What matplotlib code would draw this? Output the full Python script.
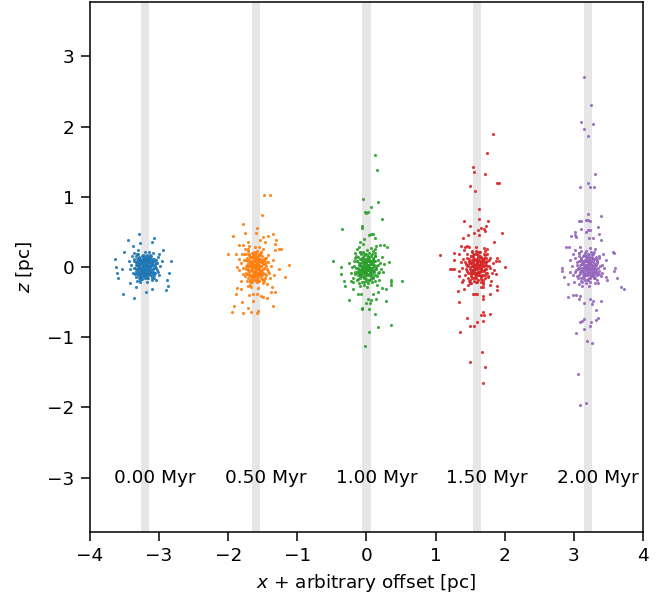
import matplotlib
matplotlib.use("Agg")
import matplotlib.pyplot as plt
import numpy as np

# Cluster offsets along x and time labels
offsets = [-3.2, -1.6, 0.0, 1.6, 3.2]
labels = ["0.00 Myr", "0.50 Myr", "1.00 Myr", "1.50 Myr", "2.00 Myr"]
colors = ["tab:blue", "tab:orange", "tab:green", "tab:red", "tab:purple"]

# (dx, z) of stars in each snapshot
stars_000 = [
    (-0.20,0.03),(-0.18,-0.08),(-0.17,0.12),(-0.15,-0.02),(-0.14,0.07),(-0.13,-0.14),(-0.12,0.18),(-0.11,0.01),
    (-0.10,-0.09),(-0.09,0.10),(-0.08,-0.18),(-0.07,0.04),(-0.06,-0.05),(-0.05,0.15),(-0.04,-0.12),(-0.03,0.08),
    (-0.02,-0.02),(-0.01,0.21),(0.00,-0.07),(0.01,0.05),(0.02,-0.16),(0.03,0.12),(0.04,-0.03),(0.05,0.02),
    (0.06,-0.10),(0.07,0.17),(0.08,-0.06),(0.09,0.08),(0.10,-0.15),(0.11,0.03),(0.12,-0.01),(0.13,0.11),
    (0.14,-0.09),(0.15,0.06),(0.17,-0.04),(0.18,0.14),(0.20,-0.12),(0.22,0.01),(-0.22,-0.03),(-0.16,0.20),
    (-0.07,-0.22),(0.05,0.22),(0.16,-0.19),(-0.03,0.00),(0.00,0.10),(0.02,0.00),(-0.05,-0.01),(0.04,0.07),
    (-0.09,0.00),(0.08,0.01),(-0.01,-0.11),(0.00,0.03),(-0.12,-0.20),(0.11,0.20),(-0.19,0.15),(0.19,-0.07),
    (0.24,0.08),(-0.24,0.09),(0.03,-0.22),(-0.10,0.24),
    (-0.14,0.03),(-0.13,-0.06),(-0.12,0.11),(-0.11,-0.12),(-0.10,0.05),(-0.10,-0.03),(-0.09,0.14),(-0.08,-0.08),
    (-0.08,0.07),(-0.07,-0.14),(-0.07,0.00),(-0.06,0.10),(-0.06,-0.10),(-0.05,0.04),(-0.05,-0.17),(-0.04,0.12),
    (-0.04,-0.04),(-0.03,0.17),(-0.03,-0.09),(-0.02,0.06),(-0.02,-0.14),(-0.01,0.13),(-0.01,-0.05),(0.00,0.15),
    (0.00,-0.03),(0.00,-0.15),(0.01,0.08),(0.01,-0.09),(0.02,0.17),(0.02,-0.12),(0.03,0.03),(0.03,-0.06),
    (0.04,0.14),(0.04,-0.15),(0.05,0.09),(0.05,-0.07),(0.06,0.00),(0.06,0.13),(0.07,-0.12),(0.07,0.05),
    (0.08,-0.03),(0.09,0.12),(0.09,-0.09),(0.10,0.04),(0.11,-0.07),(0.12,0.09),(0.13,-0.12),(0.14,0.00),
    (-0.15,-0.10),(-0.16,0.08),(0.15,0.10),(0.16,-0.02),(-0.11,0.18),(0.10,-0.18),(-0.04,0.02),(0.02,0.03),
    (-0.06,-0.01),(0.04,-0.01),(-0.02,-0.01),(0.01,0.01),(-0.09,-0.16),(0.08,0.16),(-0.13,0.15),(0.12,-0.15),
    (-0.17,-0.01),(0.17,0.06),
    (-0.125,0.025),(-0.115,-0.035),(-0.105,0.085),(-0.095,-0.055),(-0.085,0.025),(-0.075,0.115),(-0.075,-0.115),
    (-0.065,0.055),(-0.055,-0.035),(-0.045,0.085),(-0.045,-0.075),(-0.035,0.035),(-0.025,-0.115),(-0.025,0.105),
    (-0.015,0.025),(-0.015,-0.065),(-0.005,0.065),(0.005,-0.035),(0.005,0.115),(0.015,-0.085),(0.015,0.045),
    (0.025,-0.025),(0.035,0.095),(0.035,-0.105),(0.045,0.025),(0.055,-0.045),(0.055,0.065),(0.065,-0.085),
    (0.075,0.095),(0.075,0.015),(0.085,-0.055),(0.095,0.055),(0.105,-0.025),(0.115,0.075),(0.125,-0.085),
    (-0.135,-0.085),(-0.135,0.075),(0.135,0.035),(-0.095,0.135),(0.095,-0.135),(-0.035,0.145),(0.025,-0.145),
    (-0.055,-0.145),(0.065,0.145),
    (-0.09,0.47),(0.12,0.42),(-0.25,0.39),(0.09,0.36),(-0.08,0.34),(-0.18,0.30),(-0.31,0.21),(-0.44,0.11),
    (0.37,0.09),(-0.42,0.00),(-0.33,-0.03),(-0.41,-0.09),(-0.39,-0.16),(0.34,-0.08),(0.32,-0.19),(-0.22,-0.23),
    (0.33,-0.27),(-0.13,-0.29),(0.09,-0.32),(0.30,-0.33),(0.01,-0.35),(-0.32,-0.38),(-0.16,-0.44),(0.25,0.24),
    (0.20,0.19),
]
stars_050 = [
    (-0.22,0.05),(-0.19,-0.10),(-0.17,0.18),(-0.15,-0.03),(-0.14,0.10),(-0.13,-0.20),(-0.12,0.25),(-0.11,0.00),
    (-0.10,-0.12),(-0.09,0.14),(-0.08,-0.25),(-0.07,0.05),(-0.06,-0.06),(-0.05,0.20),(-0.04,-0.16),(-0.03,0.09),
    (-0.02,-0.02),(-0.01,0.28),(0.00,-0.09),(0.01,0.04),(0.02,-0.21),(0.03,0.15),(0.04,-0.04),(0.05,0.01),
    (0.06,-0.13),(0.07,0.22),(0.08,-0.07),(0.09,0.09),(0.10,-0.19),(0.11,0.04),(0.12,-0.01),(0.13,0.13),
    (0.14,-0.11),(0.15,0.07),(0.17,-0.05),(0.18,0.17),(0.20,-0.15),(0.22,0.02),(-0.24,-0.04),(-0.16,0.25),
    (-0.07,-0.29),(0.05,0.29),(0.16,-0.24),(-0.03,0.01),(0.00,0.12),(0.02,0.00),(-0.05,-0.01),(0.04,0.08),
    (-0.09,0.01),(0.08,0.02),(-0.01,-0.13),(0.00,0.04),(-0.12,-0.27),(0.11,0.26),(-0.20,0.18),(0.19,-0.09),
    (0.25,0.10),(-0.25,0.12),(0.03,-0.30),(-0.10,0.30),(0.26,-0.12),(-0.21,-0.20),
    (-0.15,0.02),(-0.14,-0.09),(-0.13,0.13),(-0.12,-0.15),(-0.11,0.06),(-0.10,-0.04),(-0.10,0.18),(-0.09,-0.11),
    (-0.08,0.09),(-0.08,-0.19),(-0.07,0.01),(-0.06,0.14),(-0.06,-0.13),(-0.05,0.05),(-0.05,-0.22),(-0.04,0.16),
    (-0.04,-0.05),(-0.03,0.22),(-0.03,-0.11),(-0.02,0.08),(-0.02,-0.18),(-0.01,0.17),(-0.01,-0.07),(0.00,0.20),
    (0.00,-0.02),(0.00,-0.20),(0.01,0.10),(0.01,-0.12),(0.02,0.23),(0.02,-0.15),(0.03,0.04),(0.03,-0.08),
    (0.04,0.18),(0.04,-0.20),(0.05,0.12),(0.05,-0.09),(0.06,0.01),(0.06,0.17),(0.07,-0.16),(0.07,0.07),
    (0.08,-0.04),(0.09,0.15),(0.09,-0.12),(0.10,0.05),(0.11,-0.09),(0.12,0.11),(0.13,-0.16),(0.14,0.01),
    (-0.16,-0.13),(-0.17,0.10),(0.15,0.13),(0.16,-0.03),(-0.11,0.23),(0.10,-0.23),(-0.04,0.03),(0.02,0.04),
    (-0.06,-0.02),(0.04,-0.01),(-0.02,0.00),(0.01,0.02),(-0.09,-0.21),(0.08,0.21),(-0.14,0.19),(0.12,-0.20),
    (-0.18,-0.02),(0.18,0.07),
    (-0.125,0.03),(-0.115,-0.045),(-0.105,0.105),(-0.095,-0.07),(-0.085,0.03),(-0.075,0.145),(-0.075,-0.145),
    (-0.065,0.07),(-0.055,-0.045),(-0.045,0.105),(-0.045,-0.095),(-0.035,0.045),(-0.025,-0.145),(-0.025,0.13),
    (-0.015,0.03),(-0.015,-0.08),(-0.005,0.08),(0.005,-0.045),(0.005,0.145),(0.015,-0.105),(0.015,0.055),
    (0.025,-0.03),(0.035,0.12),(0.035,-0.13),(0.045,0.03),(0.055,-0.055),(0.055,0.08),(0.065,-0.105),
    (0.075,0.12),(0.075,0.02),(0.085,-0.07),(0.095,0.07),(0.105,-0.03),(0.115,0.095),(0.125,-0.105),
    (-0.135,-0.105),(-0.135,0.095),(0.135,0.045),(-0.095,0.17),(0.095,-0.17),(-0.035,0.18),(0.025,-0.18),
    (-0.055,-0.18),(0.065,0.18),
    (0.12,1.02),(0.20,1.02),(0.09,0.74),(-0.19,0.61),(0.02,0.56),(-0.16,0.49),(0.00,0.48),(0.25,0.47),
    (-0.33,0.44),(0.11,0.43),(0.18,0.44),(0.29,0.39),(0.06,0.38),(-0.11,0.36),(-0.25,0.32),(-0.18,0.31),
    (0.28,0.33),(0.13,0.35),(0.34,0.26),(0.36,0.25),(-0.41,0.19),(-0.29,0.18),(0.27,0.24),(0.48,0.03),
    (-0.28,0.00),(0.42,-0.14),(0.33,-0.03),(-0.28,-0.30),(-0.29,-0.38),(-0.21,-0.32),(0.24,-0.28),(0.28,-0.35),
    (0.22,-0.36),(-0.10,-0.40),(-0.04,-0.39),(0.01,-0.39),(0.07,-0.42),(0.16,-0.44),(0.10,-0.43),(-0.04,-0.48),
    (-0.20,-0.50),(-0.32,-0.56),(-0.11,-0.59),(0.25,-0.55),(-0.35,-0.64),(-0.18,-0.66),(-0.07,-0.64),(0.01,-0.65),
    (0.03,-0.63),
]
stars_100 = [
    (-0.21,0.00),(-0.18,0.09),(-0.16,-0.07),(-0.15,0.15),(-0.13,-0.01),(-0.12,-0.17),(-0.11,0.06),(-0.10,0.21),
    (-0.09,-0.10),(-0.08,0.02),(-0.07,0.12),(-0.06,-0.21),(-0.05,-0.03),(-0.04,0.18),(-0.03,0.05),(-0.02,-0.13),
    (-0.01,0.09),(0.00,-0.05),(0.01,0.24),(0.02,0.01),(0.03,-0.18),(0.04,0.13),(0.05,-0.08),(0.06,0.04),
    (0.07,-0.01),(0.08,0.19),(0.09,-0.14),(0.10,0.07),(0.11,-0.04),(0.12,0.16),(0.13,-0.20),(0.14,0.02),
    (0.16,0.10),(0.17,-0.09),(0.19,0.05),(0.21,-0.03),(-0.23,-0.09),(-0.19,-0.15),(-0.14,0.25),(-0.04,-0.26),
    (0.06,0.27),(0.15,-0.25),(0.22,0.14),(-0.02,0.02),(0.01,-0.02),(-0.06,0.07),(0.04,-0.11),(0.00,0.07),
    (-0.03,-0.06),(0.02,0.11),(-0.08,-0.04),(0.09,0.00),(-0.11,0.28),(-0.17,0.20),(0.18,-0.18),(0.24,-0.07),
    (-0.25,0.06),(0.12,0.26),(-0.09,-0.27),(0.01,-0.29),(0.26,0.04),(-0.20,-0.22),
    (-0.15,-0.02),(-0.14,0.08),(-0.13,-0.11),(-0.12,0.14),(-0.11,-0.05),(-0.10,0.03),(-0.10,-0.16),(-0.09,0.11),
    (-0.08,-0.08),(-0.08,0.19),(-0.07,-0.01),(-0.06,-0.13),(-0.06,0.13),(-0.05,-0.04),(-0.05,0.21),(-0.04,-0.16),
    (-0.04,0.05),(-0.03,-0.21),(-0.03,0.10),(-0.02,-0.07),(-0.02,0.17),(-0.01,-0.17),(-0.01,0.06),(0.00,-0.20),
    (0.00,0.02),(0.00,0.19),(0.01,-0.10),(0.01,0.12),(0.02,-0.23),(0.02,0.15),(0.03,-0.03),(0.03,0.08),
    (0.04,-0.18),(0.04,0.20),(0.05,-0.12),(0.05,0.09),(0.06,-0.01),(0.06,-0.17),(0.07,0.16),(0.07,-0.06),
    (0.08,0.04),(0.09,-0.15),(0.09,0.12),(0.10,-0.05),(0.11,0.09),(0.12,-0.11),(0.13,0.16),(0.14,-0.01),
    (-0.16,0.13),(-0.17,-0.10),(0.15,-0.13),(0.16,0.03),(-0.11,-0.23),(0.10,0.23),(-0.04,-0.02),(0.02,-0.04),
    (-0.06,0.02),(0.04,0.01),(-0.02,0.00),(0.01,-0.02),(-0.09,0.21),(0.08,-0.21),(-0.14,-0.19),(0.12,0.20),
    (-0.18,0.02),(0.18,-0.07),
    (-0.125,-0.025),(-0.115,0.035),(-0.105,-0.085),(-0.095,0.055),(-0.085,-0.025),(-0.075,-0.115),(-0.075,0.115),
    (-0.065,-0.055),(-0.055,0.035),(-0.045,-0.085),(-0.045,0.075),(-0.035,-0.035),(-0.025,0.115),(-0.025,-0.105),
    (-0.015,-0.025),(-0.015,0.065),(-0.005,-0.065),(0.005,0.035),(0.005,-0.115),(0.015,0.085),(0.015,-0.045),
    (0.025,0.025),(0.035,-0.095),(0.035,0.105),(0.045,-0.025),(0.055,0.045),(0.055,-0.065),(0.065,0.085),
    (0.075,-0.095),(0.075,-0.015),(0.085,0.055),(0.095,-0.055),(0.105,0.025),(0.115,-0.075),(0.125,0.085),
    (-0.135,0.085),(-0.135,-0.075),(0.135,-0.035),(-0.095,-0.135),(0.095,0.135),(-0.035,-0.145),(0.025,0.145),
    (-0.055,0.145),(0.065,-0.145),
    (0.12,1.59),(0.15,1.38),(-0.05,0.97),(0.17,0.93),(0.07,0.86),(-0.02,0.78),(0.00,0.77),(0.02,0.79),
    (0.22,0.68),(-0.07,0.59),(-0.06,0.56),(-0.36,0.54),(0.07,0.47),(0.10,0.47),(0.03,0.45),(0.13,0.42),
    (-0.03,0.40),(-0.10,0.36),(-0.05,0.33),(0.26,0.31),(0.20,0.32),(0.14,0.30),(0.29,0.28),(-0.48,0.08),
    (-0.37,0.00),(0.33,0.07),(-0.37,-0.10),(0.51,-0.20),(0.36,-0.22),(0.35,-0.18),(-0.32,-0.20),(-0.31,-0.27),
    (-0.22,-0.20),(0.35,-0.25),(0.28,-0.32),(0.22,-0.30),(-0.19,-0.31),(-0.13,-0.38),(-0.08,-0.39),(0.09,-0.39),
    (0.16,-0.36),(-0.25,-0.47),(0.02,-0.45),(0.07,-0.47),(0.14,-0.45),(0.28,-0.49),(0.00,-0.51),(0.05,-0.51),
    (-0.07,-0.58),(-0.06,-0.60),(0.04,-0.60),(0.13,-0.67),(0.16,-0.85),(0.35,-0.83),(0.04,-0.93),(-0.02,-1.12),
]
stars_150 = [
    (-0.22,-0.02),(-0.20,0.11),(-0.18,-0.12),(-0.16,0.04),(-0.15,0.19),(-0.14,-0.06),(-0.12,0.08),(-0.11,-0.19),
    (-0.10,0.00),(-0.09,0.15),(-0.08,-0.09),(-0.07,0.23),(-0.06,0.03),(-0.05,-0.15),(-0.04,0.10),(-0.03,-0.03),
    (-0.02,0.18),(-0.01,-0.22),(0.00,0.05),(0.01,-0.08),(0.02,0.14),(0.03,-0.01),(0.04,0.21),(0.05,-0.17),
    (0.06,0.07),(0.07,-0.05),(0.08,0.12),(0.09,-0.24),(0.10,0.02),(0.11,-0.11),(0.12,0.17),(0.13,-0.03),
    (0.14,0.09),(0.16,-0.14),(0.17,0.01),(0.19,0.13),(0.21,-0.08),(0.23,0.05),(-0.24,0.07),(-0.19,0.24),
    (-0.13,-0.26),(-0.02,0.28),(0.05,-0.29),(0.15,0.25),(0.20,-0.20),(-0.01,0.00),(0.02,0.04),(-0.04,-0.05),
    (0.01,0.09),(-0.07,0.01),(0.06,-0.02),(0.00,-0.12),(-0.09,-0.23),(0.10,0.27),(-0.21,-0.18),(0.25,-0.04),
    (-0.26,-0.06),(0.08,-0.28),(-0.12,0.29),(0.27,0.09),(-0.17,0.28),(0.18,-0.26),
    (0.15,0.02),(0.14,-0.09),(0.13,0.13),(0.12,-0.15),(0.11,0.06),(0.10,-0.04),(0.10,0.18),(0.09,-0.11),
    (0.08,0.09),(0.08,-0.19),(0.07,0.01),(0.06,0.14),(0.06,-0.13),(0.05,0.05),(0.05,-0.22),(0.04,0.16),
    (0.04,-0.05),(0.03,0.22),(0.03,-0.11),(0.02,0.08),(0.02,-0.18),(0.01,0.17),(0.01,-0.07),(0.00,0.21),
    (0.00,-0.01),(0.00,-0.21),(-0.01,0.10),(-0.01,-0.12),(-0.02,0.23),(-0.02,-0.15),(-0.03,0.04),(-0.03,-0.08),
    (-0.04,0.18),(-0.04,-0.20),(-0.05,0.12),(-0.05,-0.09),(-0.06,0.01),(-0.06,0.17),(-0.07,-0.16),(-0.07,0.07),
    (-0.08,-0.04),(-0.09,0.15),(-0.09,-0.12),(-0.10,0.05),(-0.11,-0.09),(-0.12,0.11),(-0.13,-0.16),(-0.14,0.01),
    (0.16,-0.13),(0.17,0.10),(-0.15,0.13),(-0.16,-0.03),(0.11,0.23),(-0.10,-0.23),(0.04,0.03),(-0.02,0.04),
    (0.06,-0.02),(-0.04,-0.01),(0.02,0.00),(-0.01,0.02),(0.09,-0.21),(-0.08,0.21),(0.14,0.19),(-0.12,-0.20),
    (0.18,-0.02),(-0.18,0.07),
    (0.125,0.025),(0.115,-0.035),(0.105,0.085),(0.095,-0.055),(0.085,0.025),(0.075,0.115),(0.075,-0.115),
    (0.065,0.055),(0.055,-0.035),(0.045,0.085),(0.045,-0.075),(0.035,0.035),(0.025,-0.115),(0.025,0.105),
    (0.015,0.025),(0.015,-0.065),(0.005,0.065),(-0.005,-0.035),(-0.005,0.115),(-0.015,-0.085),(-0.015,0.045),
    (-0.025,-0.025),(-0.035,0.095),(-0.035,-0.105),(-0.045,0.025),(-0.055,-0.045),(-0.055,0.065),(-0.065,-0.085),
    (-0.075,0.095),(-0.075,0.015),(-0.085,-0.055),(-0.095,0.055),(-0.105,-0.025),(-0.115,0.075),(-0.125,-0.085),
    (0.135,-0.085),(0.135,0.075),(-0.135,0.035),(0.095,0.135),(-0.095,-0.135),(0.035,0.145),(-0.025,-0.145),
    (0.055,-0.145),(-0.065,0.145),
    (0.23,1.89),(0.14,1.62),(-0.06,1.43),(-0.04,1.35),(0.12,1.32),(0.29,1.20),(0.31,1.19),(-0.11,1.15),
    (-0.03,1.08),(0.03,0.83),(0.03,0.69),(-0.19,0.66),(0.16,0.65),(-0.10,0.58),(0.13,0.59),(0.05,0.55),
    (0.10,0.54),(0.01,0.52),(-0.04,0.49),(0.11,0.51),(0.03,0.46),(-0.13,0.46),(0.36,0.48),(-0.21,0.41),
    (0.25,0.35),(-0.24,0.30),(-0.14,0.30),(-0.53,0.17),(-0.33,0.20),(-0.26,0.18),(-0.33,0.10),(0.32,0.08),
    (0.29,0.13),(-0.39,-0.03),(-0.36,-0.03),(-0.33,-0.03),(0.41,0.00),(0.28,-0.10),(-0.26,-0.13),(-0.22,-0.22),
    (-0.19,-0.31),(-0.27,-0.34),(0.29,-0.27),(0.29,-0.33),(0.18,-0.39),(-0.06,-0.39),(-0.03,-0.39),(0.00,-0.38),
    (0.08,-0.42),(0.09,-0.46),(-0.26,-0.50),(0.08,-0.64),(0.06,-0.68),(0.10,-0.68),(0.19,-0.67),(-0.14,-0.73),
    (0.00,-0.78),(0.08,-0.77),(-0.11,-0.84),(-0.05,-0.84),(-0.25,-0.93),(0.07,-1.21),(-0.11,-1.35),(0.12,-1.43),
    (0.08,-1.65),
]
stars_200 = [
    (-0.23,0.01),(-0.21,-0.11),(-0.19,0.13),(-0.17,-0.04),(-0.16,0.07),(-0.14,-0.16),(-0.13,0.20),(-0.12,-0.01),
    (-0.11,-0.09),(-0.10,0.11),(-0.09,-0.20),(-0.08,0.04),(-0.07,-0.06),(-0.06,0.17),(-0.05,-0.13),(-0.04,0.08),
    (-0.03,-0.03),(-0.02,0.23),(-0.01,-0.08),(0.00,0.03),(0.01,-0.18),(0.02,0.14),(0.03,-0.02),(0.04,0.06),
    (0.05,-0.11),(0.06,0.19),(0.07,-0.07),(0.08,0.09),(0.09,-0.16),(0.10,0.02),(0.11,-0.03),(0.12,0.12),
    (0.13,-0.10),(0.14,0.05),(0.16,-0.06),(0.17,0.16),(0.19,-0.13),(0.21,0.03),(0.23,-0.02),(-0.25,-0.07),
    (-0.18,0.24),(-0.08,-0.27),(0.04,0.27),(0.15,-0.23),(0.22,0.19),(-0.02,0.00),(0.01,0.09),(0.02,-0.01),
    (-0.05,0.01),(0.05,0.03),(-0.09,-0.02),(0.08,-0.01),(-0.01,-0.12),(-0.12,-0.24),(0.11,0.25),(-0.21,0.19),
    (0.20,-0.09),(0.26,0.10),(-0.26,0.10),(0.02,-0.27),(-0.11,0.29),(0.27,-0.14),(-0.20,-0.21),
    (0.15,-0.02),(0.14,0.08),(0.13,-0.11),(0.12,0.14),(0.11,-0.05),(0.10,0.03),(0.10,-0.16),(0.09,0.11),
    (0.08,-0.08),(0.08,0.19),(0.07,-0.01),(0.06,-0.13),(0.06,0.13),(0.05,-0.04),(0.05,0.21),(0.04,-0.16),
    (0.04,0.05),(0.03,-0.21),(0.03,0.10),(0.02,-0.07),(0.02,0.17),(0.01,-0.17),(0.01,0.06),(0.00,-0.19),
    (0.00,0.03),(0.00,0.18),(-0.01,-0.10),(-0.01,0.12),(-0.02,-0.23),(-0.02,0.15),(-0.03,-0.03),(-0.03,0.08),
    (-0.04,-0.18),(-0.04,0.20),(-0.05,-0.12),(-0.05,0.09),(-0.06,-0.01),(-0.06,-0.17),(-0.07,0.16),(-0.07,-0.06),
    (-0.08,0.04),(-0.09,-0.15),(-0.09,0.12),(-0.10,-0.05),(-0.11,0.09),(-0.12,-0.11),(-0.13,0.16),(-0.14,-0.01),
    (0.16,0.13),(0.17,-0.10),(-0.15,-0.13),(-0.16,0.03),(0.11,-0.23),(-0.10,0.23),(0.04,-0.02),(-0.02,-0.04),
    (0.06,0.02),(-0.04,0.01),(0.02,0.00),(-0.01,-0.02),(0.09,0.21),(-0.08,-0.21),(0.14,-0.19),(-0.12,0.20),
    (0.18,0.02),(-0.18,-0.07),
    (0.125,-0.025),(0.115,0.035),(0.105,-0.085),(0.095,0.055),(0.085,-0.025),(0.075,-0.115),(0.075,0.115),
    (0.065,-0.055),(0.055,0.035),(0.045,-0.085),(0.045,0.075),(0.035,-0.035),(0.025,0.115),(0.025,-0.105),
    (0.015,-0.025),(0.015,0.065),(0.005,-0.065),(-0.005,0.035),(-0.005,-0.115),(-0.015,0.085),(-0.015,-0.045),
    (-0.025,0.025),(-0.035,-0.095),(-0.035,0.105),(-0.045,-0.025),(-0.055,0.045),(-0.055,-0.065),(-0.065,0.085),
    (-0.075,-0.095),(-0.075,-0.015),(-0.085,0.055),(-0.095,-0.055),(-0.105,0.025),(-0.115,-0.075),(-0.125,0.085),
    (0.135,0.085),(0.135,-0.075),(-0.135,-0.035),(0.095,-0.135),(-0.095,0.135),(0.035,-0.145),(-0.025,0.145),
    (0.055,0.145),(-0.065,-0.145),
    (-0.05,2.71),(0.05,2.30),(-0.10,2.06),(0.08,2.04),(-0.05,1.97),(0.01,1.87),(0.11,1.33),(0.00,1.20),
    (-0.11,1.14),(0.03,1.14),(0.09,1.14),(0.00,0.75),(0.19,0.72),(-0.03,0.67),(0.00,0.67),(0.04,0.66),
    (-0.13,0.65),(-0.09,0.66),(0.15,0.57),(0.01,0.53),(0.04,0.52),(-0.09,0.54),(-0.18,0.50),(-0.03,0.50),
    (0.17,0.47),(-0.24,0.44),(-0.19,0.45),(-0.17,0.43),(0.02,0.42),(0.08,0.42),(0.19,0.39),(-0.31,0.28),
    (-0.27,0.28),(0.37,0.21),(0.38,0.20),(-0.37,-0.02),(-0.37,-0.05),(0.39,-0.01),(0.38,-0.06),(0.42,-0.16),
    (-0.34,-0.14),(0.48,-0.28),(0.52,-0.31),(0.28,-0.19),(-0.29,-0.24),(-0.28,-0.43),(-0.22,-0.40),(-0.17,-0.40),
    (-0.11,-0.41),(-0.12,-0.45),(0.19,-0.48),(0.04,-0.46),(0.07,-0.49),(0.06,-0.52),(-0.05,-0.51),(0.12,-0.61),
    (0.15,-0.72),(0.12,-0.76),(-0.05,-0.74),(-0.08,-0.77),(-0.11,-0.79),(0.05,-0.78),(0.03,-0.84),(-0.05,-0.89),
    (-0.17,-0.94),(-0.01,-1.05),(0.06,-1.08),(-0.14,-1.52),(-0.03,-1.93),(-0.11,-1.96),
]
snapshots = [stars_000, stars_050, stars_100, stars_150, stars_200]

fig = plt.figure(figsize=(6.68, 6.0), dpi=100)
ax = fig.add_axes([0.1347, 0.1138, 0.9626 - 0.1347, 0.9962 - 0.1138])

for off, lab, col, stars in zip(offsets, labels, colors, snapshots):
    arr = np.array(stars)
    ax.axvspan(off - 0.06, off + 0.06, color="0.9", lw=0, zorder=0)
    ax.scatter(off + arr[:, 0], arr[:, 1], s=5, color=col, lw=0, alpha=0.9, zorder=2)
    ax.text(off + 0.145, -3.0, lab, ha="center", va="center", fontsize=13.3)

ax.set_xlim(-4, 4)
ax.set_ylim(-3.77, 3.77)
ax.set_xticks([-4, -3, -2, -1, 0, 1, 2, 3, 4])
ax.set_yticks([-3, -2, -1, 0, 1, 2, 3])
ax.tick_params(labelsize=13.3, length=6.5, width=1.1, pad=4.5)
for sp in ax.spines.values():
    sp.set_linewidth(1.1)
ax.set_xlabel(r"$x$ + arbitrary offset [pc]", fontsize=13.3, labelpad=5)
ax.set_ylabel(r"$z$ [pc]", fontsize=13.3, labelpad=8)

fig.savefig("out.png", dpi=100)
